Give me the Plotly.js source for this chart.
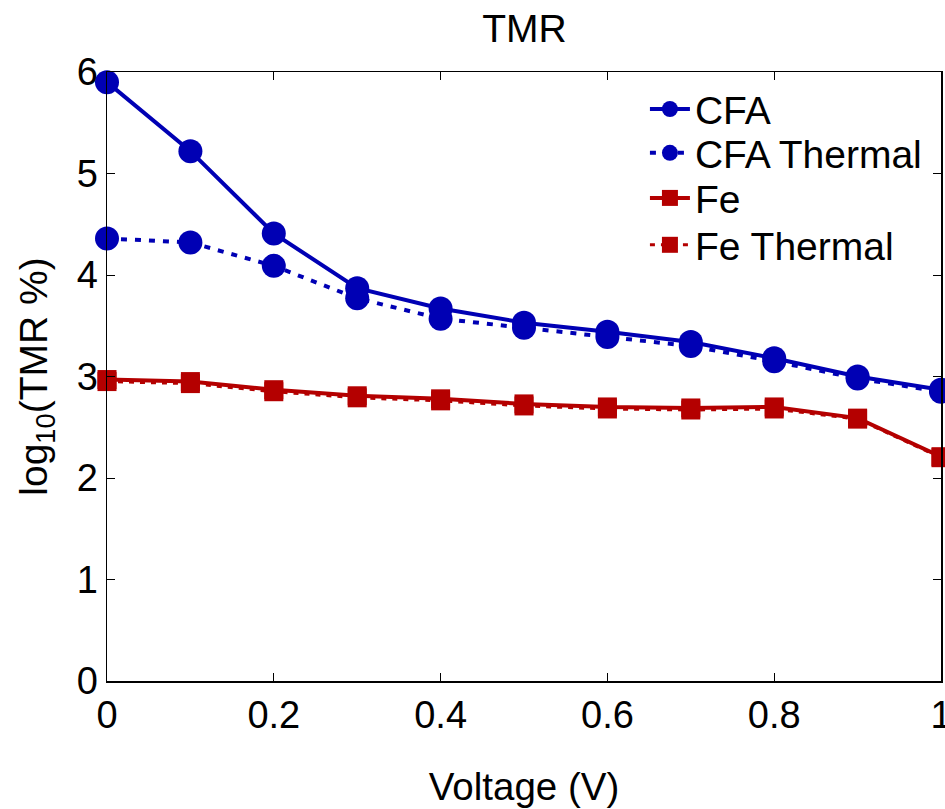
<!DOCTYPE html>
<html>
<head>
<meta charset="utf-8">
<script src="https://cdn.plot.ly/plotly-3.0.1.min.js"></script>
<style>html,body{margin:0;padding:0;background:#fff;}#chart{width:945px;height:809px;}</style>
</head>
<body>
<div id="chart"></div>
<script>
const voltage = [0, 0.1, 0.2, 0.3, 0.4, 0.5, 0.6, 0.7, 0.8, 0.9, 1.0];
const cfa = [5.90, 5.22, 4.41, 3.87, 3.67, 3.53, 3.44, 3.34, 3.18, 3.00, 2.87];
const cfaThermal = [4.36, 4.32, 4.09, 3.77, 3.57, 3.48, 3.39, 3.30, 3.15, 2.98, 2.85];
const fe = [2.97, 2.95, 2.87, 2.81, 2.78, 2.73, 2.70, 2.69, 2.70, 2.59, 2.21];
const feThermal = [2.95, 2.93, 2.85, 2.79, 2.76, 2.71, 2.68, 2.67, 2.68, 2.58, 2.20];
const seriesNames = ["CFA", "CFA Thermal", "Fe", "Fe Thermal"];
const xTicks = [0, 0.2, 0.4, 0.6, 0.8, 1];
const yTicks = [0, 1, 2, 3, 4, 5, 6];

const blue = "#0000b4";
const red = "#b40000";
const font = "Liberation Sans, Arial, Helvetica, sans-serif";

const traces = [
  {x: voltage, y: cfa, name: seriesNames[0], mode: "lines+markers", legend: "legend",
   line: {color: blue, width: 4}, marker: {symbol: "circle", size: 24, color: blue}, cliponaxis: false},
  {x: voltage, y: cfaThermal, name: seriesNames[1], mode: "lines+markers", legend: "legend2",
   line: {color: blue, width: 4, dash: "6px,8px"}, marker: {symbol: "circle", size: 24, color: blue}, cliponaxis: false},
  {x: voltage, y: fe, name: seriesNames[2], mode: "lines+markers", legend: "legend3",
   line: {color: red, width: 4}, marker: {symbol: "square", size: 19, color: red}, cliponaxis: false},
  {x: voltage, y: feThermal, name: seriesNames[3], mode: "lines+markers", legend: "legend4",
   line: {color: red, width: 3, dash: "5px,6px"}, marker: {symbol: "square", size: 19, color: red}, cliponaxis: false}
];

function leg(yc) {
  return {x: 0.645, y: yc, xanchor: "left", yanchor: "middle",
    bgcolor: "rgba(255,255,255,0)", borderwidth: 0, font: {size: 39}, itemwidth: 40};
}

const layout = {
  width: 945, height: 809,
  margin: {l: 107, r: 4, t: 72, b: 128},
  paper_bgcolor: "#fff", plot_bgcolor: "#fff",
  font: {family: font, size: 39, color: "#000"},
  title: {text: "TMR", x: 0.555, xanchor: "center", y: 0.965, yanchor: "middle", font: {size: 39}},
  xaxis: {
    range: [0, 1], tickvals: xTicks, ticktext: xTicks.map(String),
    showgrid: false, zeroline: false, showline: true, linecolor: "#000", linewidth: 1.5,
    mirror: "ticks", ticks: "inside", ticklen: 8, tickwidth: 1, tickcolor: "#000",
    tickfont: {size: 38}, ticklabeloverflow: "allow",
    title: {text: "Voltage (V)", font: {size: 38.5}, standoff: 38}
  },
  yaxis: {
    range: [0, 6], tickvals: yTicks, ticktext: yTicks.map(String),
    showgrid: false, zeroline: false, showline: true, linecolor: "#000", linewidth: 1.5,
    mirror: "ticks", ticks: "inside", ticklen: 8, tickwidth: 1, tickcolor: "#000",
    tickfont: {size: 38}, ticklabeloverflow: "allow",
    title: {text: "log<sub>10</sub>(TMR %)", font: {size: 39}, standoff: 17}
  },
  legend: leg(0.939),
  legend2: leg(0.867),
  legend3: leg(0.793),
  legend4: leg(0.716),
  showlegend: true
};

Plotly.newPlot("chart", traces, layout, {displayModeBar: false, staticPlot: true});
</script>
</body>
</html>
